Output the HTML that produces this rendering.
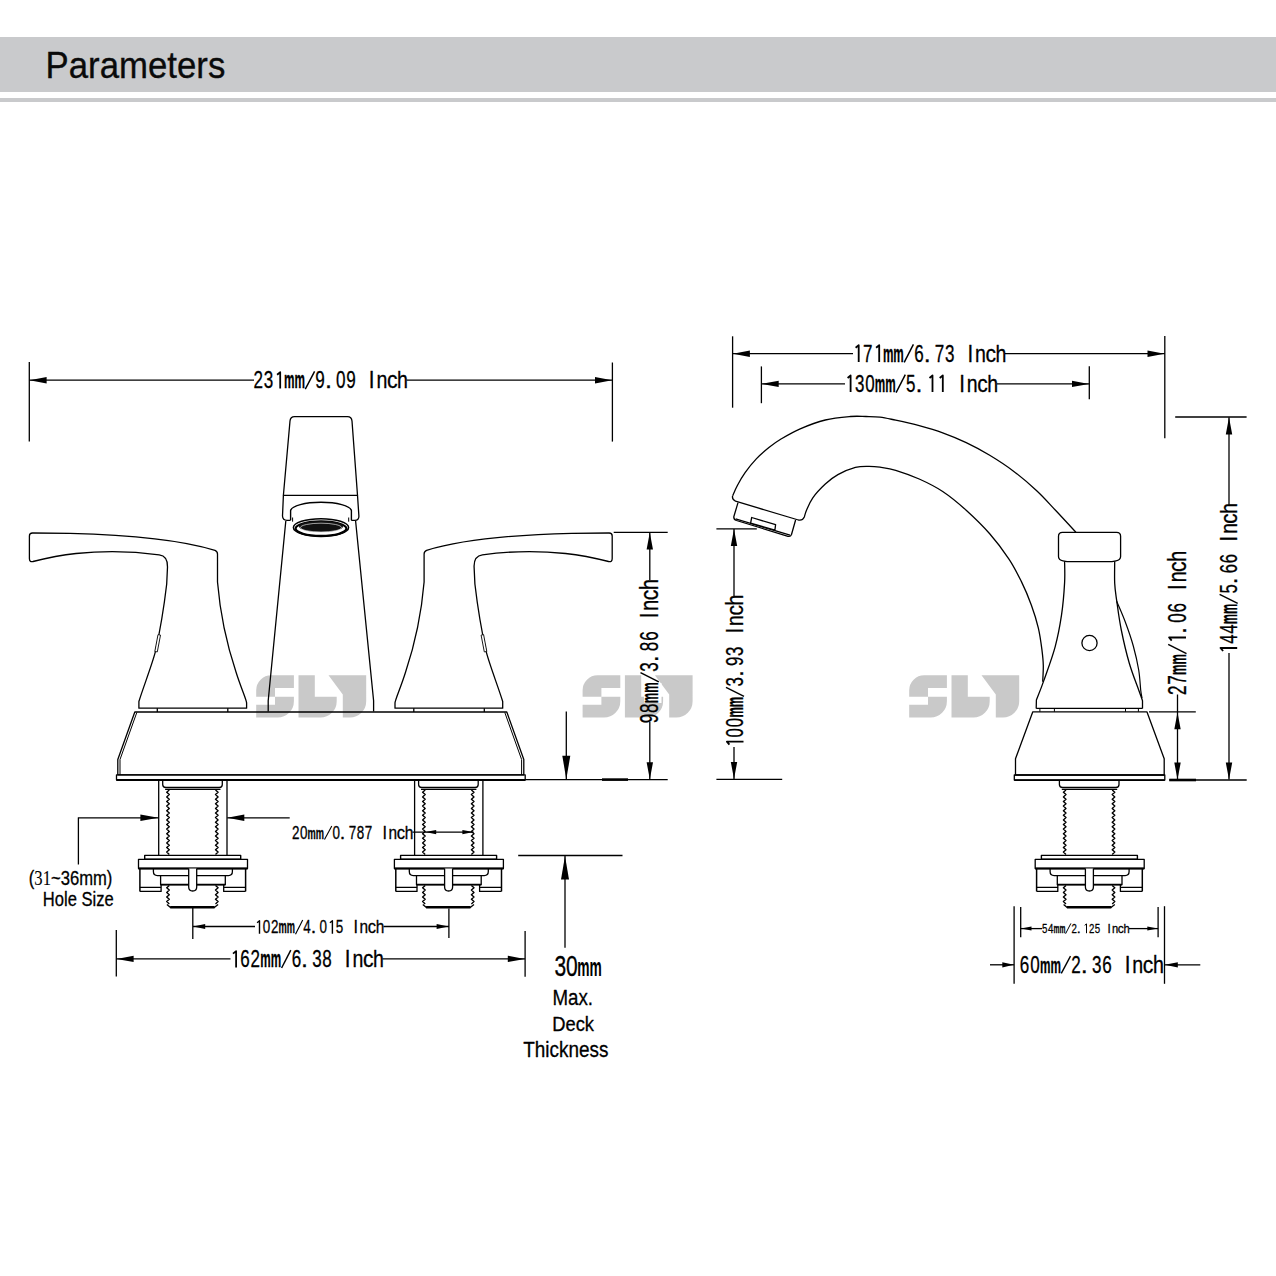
<!DOCTYPE html>
<html><head><meta charset="utf-8"><title>Parameters</title>
<style>
html,body{margin:0;padding:0;background:#fff;}
body{width:1276px;height:1276px;overflow:hidden;position:relative;font-family:"Liberation Sans",sans-serif;}
.band{position:absolute;left:0;top:37px;width:1276px;height:55px;background:#c9cacc;}
.rule{position:absolute;left:0;top:98px;width:1276px;height:4px;background:#c9cacc;}
svg{position:absolute;left:0;top:0;}
text{font-family:"Liberation Sans",sans-serif;fill:#000;stroke:none;}
.f{fill:#000;stroke:none;}
.d{font-family:"Liberation Mono",monospace;}
.dt text{stroke:#000;stroke-width:0.3px;}
.wm{fill:#c9c9c9;stroke:none;}
.s{stroke:#000;stroke-width:0.3px;}
</style></head>
<body>
<div class="band"></div><div class="rule"></div>
<svg width="1276" height="1276" viewBox="0 0 1276 1276">
<text x="45.6" y="78" font-size="36.5" textLength="179.7" lengthAdjust="spacingAndGlyphs" style="fill:#0a0a0a;stroke:#0a0a0a;stroke-width:0.35px">Parameters</text>
<g stroke="#000" fill="none" stroke-linecap="butt" stroke-linejoin="round">
</g>
<path class="wm" d="M256.2,696.7 L256.2,690.3 A15,15 0 0 1 271.2,675.3 L293.9,675.3 L293.9,688.0 L275.0,688.0 L275.0,696.7 L293.9,696.7 L293.9,701.3 A16.3,16.3 0 0 1 277.6,717.6 L256.2,717.6 L256.2,704.8 L275.0,704.8 L275.0,696.7 Z M298.5,675.3 L314.8,675.3 L314.8,696.7 L336.7,696.7 L336.7,701.3 A16.3,16.3 0 0 1 320.4,717.6 L298.5,717.6 Z M328.5,675.3 L366.2,675.3 L366.2,701.3 A16.3,16.3 0 0 1 349.9,717.6 L342.8,717.6 L342.8,694.6 Z"/>
<path class="wm" d="M582.6,696.7 L582.6,690.3 A15,15 0 0 1 597.6,675.3 L620.3,675.3 L620.3,688.0 L601.4,688.0 L601.4,696.7 L620.3,696.7 L620.3,701.3 A16.3,16.3 0 0 1 604.0,717.6 L582.6,717.6 L582.6,704.8 L601.4,704.8 L601.4,696.7 Z M624.9,675.3 L641.2,675.3 L641.2,696.7 L663.1,696.7 L663.1,701.3 A16.3,16.3 0 0 1 646.8,717.6 L624.9,717.6 Z M654.9,675.3 L692.6,675.3 L692.6,701.3 A16.3,16.3 0 0 1 676.3,717.6 L669.2,717.6 L669.2,694.6 Z"/>
<path class="wm" d="M909.2,696.7 L909.2,690.3 A15,15 0 0 1 924.2,675.3 L946.9,675.3 L946.9,688.0 L928.0,688.0 L928.0,696.7 L946.9,696.7 L946.9,701.3 A16.3,16.3 0 0 1 930.6,717.6 L909.2,717.6 L909.2,704.8 L928.0,704.8 L928.0,696.7 Z M951.5,675.3 L967.8,675.3 L967.8,696.7 L989.7,696.7 L989.7,701.3 A16.3,16.3 0 0 1 973.4,717.6 L951.5,717.6 Z M981.5,675.3 L1019.2,675.3 L1019.2,701.3 A16.3,16.3 0 0 1 1002.9,717.6 L995.8,717.6 L995.8,694.6 Z"/>
<g stroke="#000" fill="none" stroke-linecap="butt" stroke-linejoin="round">
<line x1="29.3" y1="362" x2="29.3" y2="441.5" stroke-width="1.3"/>
<line x1="612.4" y1="362.5" x2="612.4" y2="441.6" stroke-width="1.3"/>
<line x1="29.3" y1="380.2" x2="254" y2="380.2" stroke-width="1.3"/>
<line x1="406.5" y1="380.2" x2="612.4" y2="380.2" stroke-width="1.3"/>
<polygon class="f" points="29.6,380.2 46.6,377.0 46.6,383.4"/>
<polygon class="f" points="612.0,380.2 595.0,383.4 595.0,377.0"/>
<path d="M283.4,495.3 L290,421 Q290.4,416.6 294.5,416.6 L347.5,416.6 Q351.6,416.6 352,421 L357.5,495.3 Z" stroke-width="1.3" fill="none" />
<path d="M283.4,495.3 L282.5,516 Q282.7,520.3 287,520.3 L290.6,520.3 M351.2,520.3 L354.8,520.3 Q359,520.3 358.9,516 L357.5,495.3" stroke-width="1.3" fill="none" />
<path d="M285.8,521 L268.2,700.8 L268.2,711.5" stroke-width="1.3" fill="none" />
<path d="M355.6,521 L373.6,700.8 L373.6,711.5" stroke-width="1.3" fill="none" />
<path d="M290.6,520.3 L290.6,510.5 A30.5,8.9 0 0 1 351.4,510.5 L351.4,520.3" stroke-width="1.4" fill="#fff" />
<ellipse cx="321" cy="527.6" rx="27.6" ry="8.9" fill="#fff" stroke-width="1.5"/>
<ellipse cx="321" cy="528.6" rx="25.4" ry="7.2" fill="none" stroke-width="2.2"/>
<ellipse cx="321" cy="526.5" rx="22" ry="5.6" fill="#111" stroke="none"/>
<ellipse cx="321" cy="527.6" rx="20.5" ry="4.4" fill="none" stroke="#ddd" stroke-width="0.7"/>
<line x1="292.6" y1="517.5" x2="292.6" y2="521.7" stroke-width="1.0"/>
<line x1="348.7" y1="517.5" x2="348.7" y2="521.7" stroke-width="1.0"/>
<g>
<path d="M29.4,536 Q29.4,533 32.5,533 L70,533.3 C120,534.5 178,539 215,550.3 Q217.5,551.3 217.5,554 L217.5,582 C220,612 227,645 236,672 C241,688 246.6,700 246.6,703 L246.6,708.2 L138.9,708.2 L138.9,701.5 C143,688 152,665 155.4,651.7 C158,640 164,607 166.7,584 L167.5,567 C167.8,559 164.5,555.5 159.2,554.8 C135,551.5 105,550.5 76,553.5 C58,555.5 45,558.5 33,561.5 Q29.4,562.3 29.4,558.5 Z" stroke-width="1.3" fill="none" />
<path d="M154.8,651.5 L158,634.6 L160.5,635.1 L157.3,651.9 Z" fill="#fff" stroke-width="0.9"/>
<line x1="157.3" y1="708.2" x2="157.3" y2="712" stroke-width="1.3"/>
<line x1="227.8" y1="708.2" x2="227.8" y2="712" stroke-width="1.3"/>
</g>
<g transform="translate(641.6,0) scale(-1,1)">
<path d="M29.4,536 Q29.4,533 32.5,533 L70,533.3 C120,534.5 178,539 215,550.3 Q217.5,551.3 217.5,554 L217.5,582 C220,612 227,645 236,672 C241,688 246.6,700 246.6,703 L246.6,708.2 L138.9,708.2 L138.9,701.5 C143,688 152,665 155.4,651.7 C158,640 164,607 166.7,584 L167.5,567 C167.8,559 164.5,555.5 159.2,554.8 C135,551.5 105,550.5 76,553.5 C58,555.5 45,558.5 33,561.5 Q29.4,562.3 29.4,558.5 Z" stroke-width="1.3" fill="none" />
<path d="M154.8,651.5 L158,634.6 L160.5,635.1 L157.3,651.9 Z" fill="#fff" stroke-width="0.9"/>
<line x1="157.3" y1="708.2" x2="157.3" y2="712" stroke-width="1.3"/>
<line x1="227.8" y1="708.2" x2="227.8" y2="712" stroke-width="1.3"/>
</g>
<path d="M134.8,712 L506.8,712 L523.8,759.5 L523.8,774.8 L117.8,774.8 L117.8,759.5 Z" stroke-width="1.3" fill="none" />
<path d="M136.8,712.5 L120,759.5 L120,774.8" stroke-width="1.0" fill="none" />
<path d="M504.8,712.5 L521.6,759.5 L521.6,774.8" stroke-width="1.0" fill="none" />
<path d="M116.5,774.8 L525.2,774.8 L525.2,780 L116.5,780 Z" stroke-width="1.3" fill="none" />
<line x1="116.5" y1="780" x2="525.2" y2="780" stroke-width="1.8"/>
<line x1="158.7" y1="780.5" x2="158.7" y2="855.3" stroke-width="1.3"/>
<line x1="227.0" y1="780.5" x2="227.0" y2="855.3" stroke-width="1.3"/>
<path d="M162.7,780.3 L162.7,784.5 Q162.7,787.5 165.9,787.5 L219.3,787.5 Q222.3,787.5 222.3,784.5 L222.3,780.3" stroke-width="1.3" fill="none" />
<line x1="165.1" y1="789.3" x2="220.5" y2="789.3" stroke-width="1.3"/>
<polyline points="169.3,790.0 166.7,792.3 169.3,794.6 166.7,796.9 169.3,799.2 166.7,801.5 169.3,803.8 166.7,806.1 169.3,808.4 166.7,810.7 169.3,813.0 166.7,815.3 169.3,817.6 166.7,819.9 169.3,822.2 166.7,824.5 169.3,826.8 166.7,829.1 169.3,831.4 166.7,833.7 169.3,836.0 166.7,838.3 169.3,840.6 166.7,842.9 169.3,845.2 166.7,847.5 169.3,849.8 166.7,852.1 169.3,854.4" fill="none" stroke-width="1.4"/>
<polyline points="215.5,790.0 218.1,792.3 215.5,794.6 218.1,796.9 215.5,799.2 218.1,801.5 215.5,803.8 218.1,806.1 215.5,808.4 218.1,810.7 215.5,813.0 218.1,815.3 215.5,817.6 218.1,819.9 215.5,822.2 218.1,824.5 215.5,826.8 218.1,829.1 215.5,831.4 218.1,833.7 215.5,836.0 218.1,838.3 215.5,840.6 218.1,842.9 215.5,845.2 218.1,847.5 215.5,849.8 218.1,852.1 215.5,854.4" fill="none" stroke-width="1.4"/>
<rect x="144.7" y="855.4" width="96" height="3.9" fill="none" stroke-width="1.4"/>
<rect x="138.5" y="859.3" width="109" height="9.2" fill="none" stroke-width="1.3"/>
<line x1="138.5" y1="868.6" x2="247.5" y2="868.6" stroke-width="2.0"/>
<line x1="139.9" y1="868.6" x2="139.9" y2="891.4" stroke-width="1.5"/>
<line x1="245.6" y1="868.6" x2="245.6" y2="891.4" stroke-width="1.5"/>
<path d="M139.9,891.4 L161.1,891.4 L161.1,887.3 L139.9,887.3" stroke-width="1.3" fill="none" />
<path d="M245.6,891.4 L223.7,891.4 L223.7,887.3 L245.6,887.3" stroke-width="1.3" fill="none" />
<path d="M153.4,868.6 L153.4,871.6 Q153.4,875.6 157.4,875.6 L228.4,875.6 Q232.4,875.6 232.4,871.6 L232.4,868.6" stroke-width="1.3" fill="none" />
<path d="M160.6,875.6 L160.6,884.7 L225.3,884.7 L225.3,875.6" stroke-width="1.3" fill="none" />
<line x1="160.6" y1="884.7" x2="225.3" y2="884.7" stroke-width="1.8"/>
<line x1="161.1" y1="884.7" x2="161.1" y2="887.3" stroke-width="1.3"/>
<line x1="223.7" y1="884.7" x2="223.7" y2="887.3" stroke-width="1.3"/>
<path d="M188.7,868.6 L188.7,887 Q188.7,891 192.7,891 Q196.7,891 196.7,887 L196.7,868.6" stroke-width="1.3" fill="#fff" />
<polyline points="169.3,885.5 166.7,887.8 169.3,890.1 166.7,892.4 169.3,894.7 166.7,897.0 169.3,899.3 166.7,901.6 169.3,903.9" fill="none" stroke-width="1.4"/>
<polyline points="215.5,885.5 218.1,887.8 215.5,890.1 218.1,892.4 215.5,894.7 218.1,897.0 215.5,899.3 218.1,901.6 215.5,903.9" fill="none" stroke-width="1.4"/>
<path d="M166.9,904.5 L170.2,907.3 L214.6,907.3 L218.1,904.5" stroke-width="1.3" fill="none" />
<line x1="170.2" y1="907.3" x2="214.6" y2="907.3" stroke-width="2.4"/>
<line x1="414.6" y1="780.5" x2="414.6" y2="855.3" stroke-width="1.3"/>
<line x1="482.9" y1="780.5" x2="482.9" y2="855.3" stroke-width="1.3"/>
<path d="M418.6,780.3 L418.6,784.5 Q418.6,787.5 421.8,787.5 L475.2,787.5 Q478.2,787.5 478.2,784.5 L478.2,780.3" stroke-width="1.3" fill="none" />
<line x1="421.0" y1="789.3" x2="476.4" y2="789.3" stroke-width="1.3"/>
<polyline points="425.2,790.0 422.6,792.3 425.2,794.6 422.6,796.9 425.2,799.2 422.6,801.5 425.2,803.8 422.6,806.1 425.2,808.4 422.6,810.7 425.2,813.0 422.6,815.3 425.2,817.6 422.6,819.9 425.2,822.2 422.6,824.5 425.2,826.8 422.6,829.1 425.2,831.4 422.6,833.7 425.2,836.0 422.6,838.3 425.2,840.6 422.6,842.9 425.2,845.2 422.6,847.5 425.2,849.8 422.6,852.1 425.2,854.4" fill="none" stroke-width="1.4"/>
<polyline points="471.4,790.0 474.0,792.3 471.4,794.6 474.0,796.9 471.4,799.2 474.0,801.5 471.4,803.8 474.0,806.1 471.4,808.4 474.0,810.7 471.4,813.0 474.0,815.3 471.4,817.6 474.0,819.9 471.4,822.2 474.0,824.5 471.4,826.8 474.0,829.1 471.4,831.4 474.0,833.7 471.4,836.0 474.0,838.3 471.4,840.6 474.0,842.9 471.4,845.2 474.0,847.5 471.4,849.8 474.0,852.1 471.4,854.4" fill="none" stroke-width="1.4"/>
<rect x="400.6" y="855.4" width="96" height="3.9" fill="none" stroke-width="1.4"/>
<rect x="394.4" y="859.3" width="109" height="9.2" fill="none" stroke-width="1.3"/>
<line x1="394.4" y1="868.6" x2="503.4" y2="868.6" stroke-width="2.0"/>
<line x1="395.8" y1="868.6" x2="395.8" y2="891.4" stroke-width="1.5"/>
<line x1="501.5" y1="868.6" x2="501.5" y2="891.4" stroke-width="1.5"/>
<path d="M395.8,891.4 L417.0,891.4 L417.0,887.3 L395.8,887.3" stroke-width="1.3" fill="none" />
<path d="M501.5,891.4 L479.6,891.4 L479.6,887.3 L501.5,887.3" stroke-width="1.3" fill="none" />
<path d="M409.3,868.6 L409.3,871.6 Q409.3,875.6 413.3,875.6 L484.3,875.6 Q488.3,875.6 488.3,871.6 L488.3,868.6" stroke-width="1.3" fill="none" />
<path d="M416.5,875.6 L416.5,884.7 L481.2,884.7 L481.2,875.6" stroke-width="1.3" fill="none" />
<line x1="416.5" y1="884.7" x2="481.2" y2="884.7" stroke-width="1.8"/>
<line x1="417.0" y1="884.7" x2="417.0" y2="887.3" stroke-width="1.3"/>
<line x1="479.6" y1="884.7" x2="479.6" y2="887.3" stroke-width="1.3"/>
<path d="M444.6,868.6 L444.6,887 Q444.6,891 448.6,891 Q452.6,891 452.6,887 L452.6,868.6" stroke-width="1.3" fill="#fff" />
<polyline points="425.2,885.5 422.6,887.8 425.2,890.1 422.6,892.4 425.2,894.7 422.6,897.0 425.2,899.3 422.6,901.6 425.2,903.9" fill="none" stroke-width="1.4"/>
<polyline points="471.4,885.5 474.0,887.8 471.4,890.1 474.0,892.4 471.4,894.7 474.0,897.0 471.4,899.3 474.0,901.6 471.4,903.9" fill="none" stroke-width="1.4"/>
<path d="M422.8,904.5 L426.1,907.3 L470.5,907.3 L474.0,904.5" stroke-width="1.3" fill="none" />
<line x1="426.1" y1="907.3" x2="470.5" y2="907.3" stroke-width="2.4"/>
<line x1="613.7" y1="532.3" x2="667.7" y2="532.3" stroke-width="1.3"/>
<line x1="525" y1="779.6" x2="667.7" y2="779.6" stroke-width="1.3"/>
<line x1="602" y1="779.6" x2="628" y2="779.6" stroke-width="2.6"/>
<line x1="649.8" y1="532.3" x2="649.8" y2="580" stroke-width="1.3"/>
<line x1="649.8" y1="722" x2="649.8" y2="779.6" stroke-width="1.3"/>
<polygon class="f" points="649.8,532.6 653.0,549.6 646.6,549.6"/>
<polygon class="f" points="649.8,779.3 646.6,762.3 653.0,762.3"/>
<rect x="644" y="683" width="17.5" height="20" fill="#fff" stroke="none"/>
<g transform="translate(658 723.7) rotate(-90)" class="dt" font-size="25.00"><text transform="translate(5.2 0) scale(0.684 1)" text-anchor="middle">9</text><text transform="translate(15.5 0) scale(0.684 1)" text-anchor="middle">8</text><text x="20.4" font-size="23.75" font-weight="bold" textLength="21.0" lengthAdjust="spacingAndGlyphs">mm</text><line x1="41.8" y1="0.8" x2="51.1" y2="-17.5" stroke="#000" stroke-width="1.49"/><text transform="translate(56.7 0) scale(0.684 1)" text-anchor="middle">3</text><text transform="translate(64.9 0) scale(1.008 1)" text-anchor="middle">.</text><text transform="translate(77.3 0) scale(0.684 1)" text-anchor="middle">8</text><text transform="translate(87.6 0) scale(0.684 1)" text-anchor="middle">6</text><text transform="translate(108.2 0) scale(0.824 1)" text-anchor="middle">I</text><text transform="translate(118.5 0) scale(0.785 1)" text-anchor="middle">n</text><text transform="translate(128.8 0) scale(0.845 1)" text-anchor="middle">c</text><text transform="translate(139.1 0) scale(0.785 1)" text-anchor="middle">h</text></g>
<line x1="566.3" y1="711.5" x2="566.3" y2="779.6" stroke-width="1.3"/>
<polygon class="f" points="566.3,779.3 562.3,755.8 570.3,755.8"/>
<line x1="518.2" y1="855.5" x2="622.5" y2="855.5" stroke-width="1.3"/>
<line x1="565" y1="856" x2="565" y2="947.8" stroke-width="1.3"/>
<polygon class="f" points="565.0,856.0 569.0,879.5 561.0,879.5"/>
<text class="s" x="554.4" y="975.7" font-size="28.6" textLength="23.4" lengthAdjust="spacingAndGlyphs">30</text>
<text x="577.2" y="975.7" font-size="25.5" font-weight="bold" textLength="24.6" lengthAdjust="spacingAndGlyphs">mm</text>
<text class="s" x="552.4" y="1004.7" font-size="22.7" textLength="40.6" lengthAdjust="spacingAndGlyphs">Max.</text>
<text class="s" x="552.2" y="1030.7" font-size="19.5" textLength="41.8" lengthAdjust="spacingAndGlyphs">Deck</text>
<text class="s" x="523.2" y="1056.9" font-size="21.3" textLength="85.2" lengthAdjust="spacingAndGlyphs">Thickness</text>
<line x1="78.4" y1="817.4" x2="78.4" y2="864.5" stroke-width="1.3"/>
<line x1="78.4" y1="817.8" x2="158.5" y2="817.8" stroke-width="1.3"/>
<polygon class="f" points="158.4,817.8 140.4,821.0 140.4,814.6"/>
<line x1="227.2" y1="817.8" x2="289.7" y2="817.8" stroke-width="1.3"/>
<polygon class="f" points="227.3,817.8 244.3,814.6 244.3,821.0"/>
<g transform="translate(291.6 838.7)" class="dt" font-size="18.14"><text transform="translate(4.1 0) scale(0.741 1)" text-anchor="middle">2</text><text transform="translate(12.2 0) scale(0.741 1)" text-anchor="middle">0</text><text x="16.0" font-size="17.24" font-weight="bold" textLength="16.5" lengthAdjust="spacingAndGlyphs">mm</text><line x1="32.9" y1="0.8" x2="40.2" y2="-12.7" stroke="#000" stroke-width="1.08"/><text transform="translate(44.6 0) scale(0.741 1)" text-anchor="middle">0</text><text transform="translate(51.0 0) scale(1.091 1)" text-anchor="middle">.</text><text transform="translate(60.8 0) scale(0.741 1)" text-anchor="middle">7</text><text transform="translate(68.9 0) scale(0.741 1)" text-anchor="middle">8</text><text transform="translate(77.0 0) scale(0.741 1)" text-anchor="middle">7</text><text transform="translate(93.2 0) scale(0.893 1)" text-anchor="middle">I</text><text transform="translate(101.3 0) scale(0.850 1)" text-anchor="middle">n</text><text transform="translate(109.4 0) scale(0.915 1)" text-anchor="middle">c</text><text transform="translate(117.5 0) scale(0.850 1)" text-anchor="middle">h</text></g>
<line x1="412.4" y1="832.1" x2="473.6" y2="832.1" stroke-width="1.1"/>
<polygon class="f" points="425.2,832.1 436.2,829.9 436.2,834.3"/>
<polygon class="f" points="473.4,832.1 462.4,834.3 462.4,829.9"/>
<text class="s" x="28.8" y="885.3" font-size="20.5" textLength="83.6" lengthAdjust="spacingAndGlyphs">(<tspan font-family="Liberation Serif" style="stroke-width:0.1px">31</tspan>~36mm)</text>
<text class="s" x="42.8" y="906" font-size="20.6" textLength="71" lengthAdjust="spacingAndGlyphs">Hole Size</text>
<line x1="192.8" y1="907.5" x2="192.8" y2="938.9" stroke-width="1.3"/>
<line x1="448.9" y1="908.4" x2="448.9" y2="938" stroke-width="1.3"/>
<line x1="193" y1="926.5" x2="255" y2="926.5" stroke-width="1.3"/>
<line x1="383.5" y1="926.5" x2="448.9" y2="926.5" stroke-width="1.3"/>
<polygon class="f" points="193.2,926.5 205.2,924.1 205.2,928.9"/>
<polygon class="f" points="448.6,926.5 436.6,928.9 436.6,924.1"/>
<g transform="translate(254.5 933.4)" class="dt" font-size="19.14"><path d="M5.0,0.3 L5.0,-12.7 L2.6,-10.7" fill="none" stroke="#000" stroke-width="1.41" stroke-linejoin="round"/><text transform="translate(12.1 0) scale(0.702 1)" text-anchor="middle">0</text><text transform="translate(20.2 0) scale(0.702 1)" text-anchor="middle">2</text><text x="24.1" font-size="18.19" font-weight="bold" textLength="16.5" lengthAdjust="spacingAndGlyphs">mm</text><line x1="41.0" y1="0.8" x2="48.2" y2="-13.4" stroke="#000" stroke-width="1.14"/><text transform="translate(52.6 0) scale(0.702 1)" text-anchor="middle">4</text><text transform="translate(59.1 0) scale(1.034 1)" text-anchor="middle">.</text><text transform="translate(68.8 0) scale(0.702 1)" text-anchor="middle">0</text><path d="M77.9,0.3 L77.9,-12.7 L75.4,-10.7" fill="none" stroke="#000" stroke-width="1.41" stroke-linejoin="round"/><text transform="translate(85.0 0) scale(0.702 1)" text-anchor="middle">5</text><text transform="translate(101.2 0) scale(0.846 1)" text-anchor="middle">I</text><text transform="translate(109.3 0) scale(0.805 1)" text-anchor="middle">n</text><text transform="translate(117.4 0) scale(0.867 1)" text-anchor="middle">c</text><text transform="translate(125.5 0) scale(0.805 1)" text-anchor="middle">h</text></g>
<line x1="116.3" y1="930" x2="116.3" y2="976.5" stroke-width="1.3"/>
<line x1="525.1" y1="930.9" x2="525.1" y2="976.7" stroke-width="1.3"/>
<line x1="116.3" y1="958.9" x2="230.5" y2="958.9" stroke-width="1.3"/>
<line x1="382.5" y1="958.9" x2="525.1" y2="958.9" stroke-width="1.3"/>
<polygon class="f" points="116.6,958.9 133.6,955.7 133.6,962.1"/>
<polygon class="f" points="524.8,958.9 507.8,962.1 507.8,955.7"/>
<g transform="translate(229.7 967.2)" class="dt" font-size="24.29"><path d="M6.4,0.3 L6.4,-16.1 L3.3,-13.6" fill="none" stroke="#000" stroke-width="1.78" stroke-linejoin="round"/><text transform="translate(15.4 0) scale(0.701 1)" text-anchor="middle">6</text><text transform="translate(25.6 0) scale(0.701 1)" text-anchor="middle">2</text><text x="30.6" font-size="23.07" font-weight="bold" textLength="20.9" lengthAdjust="spacingAndGlyphs">mm</text><line x1="51.9" y1="0.8" x2="61.1" y2="-17.0" stroke="#000" stroke-width="1.45"/><text transform="translate(66.7 0) scale(0.701 1)" text-anchor="middle">6</text><text transform="translate(74.9 0) scale(1.032 1)" text-anchor="middle">.</text><text transform="translate(87.2 0) scale(0.701 1)" text-anchor="middle">3</text><text transform="translate(97.4 0) scale(0.701 1)" text-anchor="middle">8</text><text transform="translate(118.0 0) scale(0.845 1)" text-anchor="middle">I</text><text transform="translate(128.2 0) scale(0.805 1)" text-anchor="middle">n</text><text transform="translate(138.5 0) scale(0.866 1)" text-anchor="middle">c</text><text transform="translate(148.7 0) scale(0.805 1)" text-anchor="middle">h</text></g>
<g transform="translate(253.2 388.3)" class="dt" font-size="24.29"><text transform="translate(5.1 0) scale(0.704 1)" text-anchor="middle">2</text><text transform="translate(15.4 0) scale(0.704 1)" text-anchor="middle">3</text><path d="M27.0,0.3 L27.0,-16.1 L23.9,-13.6" fill="none" stroke="#000" stroke-width="1.78" stroke-linejoin="round"/><text x="30.7" font-size="23.07" font-weight="bold" textLength="21.0" lengthAdjust="spacingAndGlyphs">mm</text><line x1="52.1" y1="0.8" x2="61.4" y2="-17.0" stroke="#000" stroke-width="1.45"/><text transform="translate(66.9 0) scale(0.704 1)" text-anchor="middle">9</text><text transform="translate(75.2 0) scale(1.037 1)" text-anchor="middle">.</text><text transform="translate(87.5 0) scale(0.704 1)" text-anchor="middle">0</text><text transform="translate(97.8 0) scale(0.704 1)" text-anchor="middle">9</text><text transform="translate(118.4 0) scale(0.848 1)" text-anchor="middle">I</text><text transform="translate(128.7 0) scale(0.808 1)" text-anchor="middle">n</text><text transform="translate(139.0 0) scale(0.869 1)" text-anchor="middle">c</text><text transform="translate(149.3 0) scale(0.808 1)" text-anchor="middle">h</text></g>
<line x1="732.6" y1="336.3" x2="732.6" y2="407.7" stroke-width="1.3"/>
<line x1="1164.8" y1="336" x2="1164.8" y2="438.2" stroke-width="1.3"/>
<line x1="732.6" y1="353.7" x2="853" y2="353.7" stroke-width="1.3"/>
<line x1="1005" y1="353.7" x2="1164.8" y2="353.7" stroke-width="1.3"/>
<polygon class="f" points="732.9,353.7 749.9,350.5 749.9,356.9"/>
<polygon class="f" points="1164.5,353.7 1147.5,356.9 1147.5,350.5"/>
<g transform="translate(852.3 361.6)" class="dt" font-size="24.71"><path d="M6.4,0.3 L6.4,-16.4 L3.3,-13.8" fill="none" stroke="#000" stroke-width="1.82" stroke-linejoin="round"/><text transform="translate(15.4 0) scale(0.689 1)" text-anchor="middle">7</text><path d="M26.9,0.3 L26.9,-16.4 L23.8,-13.8" fill="none" stroke="#000" stroke-width="1.82" stroke-linejoin="round"/><text x="30.6" font-size="23.48" font-weight="bold" textLength="20.9" lengthAdjust="spacingAndGlyphs">mm</text><line x1="51.9" y1="0.8" x2="61.1" y2="-17.3" stroke="#000" stroke-width="1.47"/><text transform="translate(66.7 0) scale(0.689 1)" text-anchor="middle">6</text><text transform="translate(74.9 0) scale(1.015 1)" text-anchor="middle">.</text><text transform="translate(87.2 0) scale(0.689 1)" text-anchor="middle">7</text><text transform="translate(97.4 0) scale(0.689 1)" text-anchor="middle">3</text><text transform="translate(118.0 0) scale(0.830 1)" text-anchor="middle">I</text><text transform="translate(128.2 0) scale(0.791 1)" text-anchor="middle">n</text><text transform="translate(138.5 0) scale(0.851 1)" text-anchor="middle">c</text><text transform="translate(148.7 0) scale(0.791 1)" text-anchor="middle">h</text></g>
<line x1="761.4" y1="366.4" x2="761.4" y2="403.2" stroke-width="1.3"/>
<line x1="1089.3" y1="366.3" x2="1089.3" y2="399.2" stroke-width="1.3"/>
<line x1="761.4" y1="383.9" x2="845" y2="383.9" stroke-width="1.3"/>
<line x1="997" y1="383.9" x2="1089.3" y2="383.9" stroke-width="1.3"/>
<polygon class="f" points="761.7,383.9 778.7,380.7 778.7,387.1"/>
<polygon class="f" points="1089.0,383.9 1072.0,387.1 1072.0,380.7"/>
<g transform="translate(844.3 391.8)" class="dt" font-size="24.57"><path d="M6.3,0.3 L6.3,-16.3 L3.3,-13.8" fill="none" stroke="#000" stroke-width="1.81" stroke-linejoin="round"/><text transform="translate(15.4 0) scale(0.691 1)" text-anchor="middle">3</text><text transform="translate(25.6 0) scale(0.691 1)" text-anchor="middle">0</text><text x="30.5" font-size="23.34" font-weight="bold" textLength="20.9" lengthAdjust="spacingAndGlyphs">mm</text><line x1="51.8" y1="0.8" x2="61.0" y2="-17.2" stroke="#000" stroke-width="1.46"/><text transform="translate(66.5 0) scale(0.691 1)" text-anchor="middle">5</text><text transform="translate(74.7 0) scale(1.018 1)" text-anchor="middle">.</text><path d="M88.2,0.3 L88.2,-16.3 L85.2,-13.8" fill="none" stroke="#000" stroke-width="1.81" stroke-linejoin="round"/><path d="M98.5,0.3 L98.5,-16.3 L95.4,-13.8" fill="none" stroke="#000" stroke-width="1.81" stroke-linejoin="round"/><text transform="translate(117.7 0) scale(0.833 1)" text-anchor="middle">I</text><text transform="translate(128.0 0) scale(0.794 1)" text-anchor="middle">n</text><text transform="translate(138.2 0) scale(0.854 1)" text-anchor="middle">c</text><text transform="translate(148.4 0) scale(0.794 1)" text-anchor="middle">h</text></g>
<path d="M732.6,495.8 C733.4,494.0 735.4,489.1 737.5,485.2 C739.6,481.3 742.0,477.1 745.1,472.7 C748.2,468.3 752.3,463.1 756.3,458.9 C760.3,454.7 764.7,451.0 768.9,447.6 C773.1,444.2 776.2,441.9 781.4,438.8 C786.6,435.7 792.9,431.9 800.2,428.8 C807.5,425.7 816.9,422.1 825.3,420 C833.7,417.9 843.6,417.1 850.4,416.5 C857.2,415.9 861.1,416.4 866,416.5 C870.9,416.6 875.0,416.5 880,417.1 C885.0,417.7 889.2,418.8 895.7,420.2 C902.2,421.6 911.4,423.6 919.2,425.7 C927.0,427.8 934.9,430.0 942.7,432.8 C950.5,435.6 958.4,438.9 966.2,442.6 C974.0,446.3 981.9,450.5 989.7,455.2 C997.5,459.9 1005.4,465.0 1013.2,470.9 C1021.0,476.8 1029.7,484.2 1036.7,490.8 C1043.8,497.4 1049.0,503.4 1055.5,510.3 C1062.0,517.2 1072.5,528.6 1075.9,532.3 " stroke-width="1.3" fill="none" />
<path d="M732.6,495.8 Q731.8,499.5 735.5,501.2 L798.4,520 Q802.5,521 804.3,517 C804.7,515.9 805.1,513.5 806.5,510.3 C807.9,507.1 809.7,502.2 812.8,497.8 C815.9,493.4 821.1,487.9 825.3,484 C829.5,480.1 832.9,477.4 837.9,474.6 C842.9,471.8 850.2,468.8 855.4,467.4 C860.6,466.0 864.9,466.3 869,466.3 C873.1,466.3 875.5,466.5 880,467.2 C884.5,467.9 889.2,468.3 895.7,470.3 C902.2,472.3 911.4,475.5 919.2,479 C927.0,482.5 934.9,486.3 942.7,491.5 C950.5,496.7 958.4,503.2 966.2,510.3 C974.0,517.4 982.6,525.7 989.7,533.8 C996.8,541.9 1003.5,550.9 1008.8,558.8 C1014.1,566.7 1017.5,573.7 1021.3,581.4 C1025.1,589.1 1028.6,597.5 1031.4,605.2 C1034.2,612.9 1036.5,620.3 1038.3,627.8 C1040.1,635.3 1041.2,644.0 1042,650.3 C1042.8,656.6 1043.2,660.2 1043.3,665.4 C1043.4,670.6 1042.8,679.0 1042.7,681.7 " stroke-width="1.3" fill="none" />
<path d="M738,502.6 L733.8,516.8 Q733.6,519.5 736.5,520.5 L788,536.3 Q790.5,537 791.5,534.5 L795.6,520" stroke-width="1.3" fill="none" />
<path d="M735.6,518.9 L790,535.1" stroke-width="1.3" fill="none" />
<path d="M751.7,517.5 L775.6,524.7 L774.9,530.2 L750.6,523.1 Z" stroke-width="1.3" fill="#fff" />
<line x1="716.4" y1="528.8" x2="756.8" y2="528.8" stroke-width="1.3"/>
<line x1="716.4" y1="779.4" x2="782.2" y2="779.4" stroke-width="1.3"/>
<line x1="734" y1="529" x2="734" y2="596" stroke-width="1.3"/>
<line x1="734" y1="747" x2="734" y2="779.3" stroke-width="1.3"/>
<polygon class="f" points="734.0,529.1 737.2,546.1 730.8,546.1"/>
<polygon class="f" points="734.0,779.1 730.8,762.1 737.2,762.1"/>
<g transform="translate(743.2 748.0) rotate(-90)" class="dt" font-size="24.57"><path d="M6.3,0.3 L6.3,-16.3 L3.3,-13.8" fill="none" stroke="#000" stroke-width="1.81" stroke-linejoin="round"/><text transform="translate(15.3 0) scale(0.688 1)" text-anchor="middle">0</text><text transform="translate(25.5 0) scale(0.688 1)" text-anchor="middle">0</text><text x="30.4" font-size="23.34" font-weight="bold" textLength="20.8" lengthAdjust="spacingAndGlyphs">mm</text><line x1="51.6" y1="0.8" x2="60.7" y2="-17.2" stroke="#000" stroke-width="1.46"/><text transform="translate(66.2 0) scale(0.688 1)" text-anchor="middle">3</text><text transform="translate(74.4 0) scale(1.014 1)" text-anchor="middle">.</text><text transform="translate(86.6 0) scale(0.688 1)" text-anchor="middle">9</text><text transform="translate(96.8 0) scale(0.688 1)" text-anchor="middle">3</text><text transform="translate(117.2 0) scale(0.829 1)" text-anchor="middle">I</text><text transform="translate(127.4 0) scale(0.790 1)" text-anchor="middle">n</text><text transform="translate(137.6 0) scale(0.850 1)" text-anchor="middle">c</text><text transform="translate(147.8 0) scale(0.790 1)" text-anchor="middle">h</text></g>
<path d="M1062.5,532.3 L1116.6,532.3 Q1120.6,532.3 1120.6,536.3 L1120.6,556.5 Q1120.6,560 1116,560.8 L1112,561.6 L1067,561.6 L1063,560.8 Q1058.5,560 1058.5,556.5 L1058.5,536.3 Q1058.5,532.3 1062.5,532.3 Z" stroke-width="1.3" fill="none" />
<path d="M1064.6,561.3 C1064.6,564.8 1065.1,573.6 1064.6,582.6 C1064.1,591.6 1063.1,604.5 1061.5,615.2 C1059.9,625.9 1058.1,635.7 1055.2,646.6 C1052.3,657.5 1047.0,671.5 1043.9,680.4 C1040.8,689.3 1037.7,696.7 1036.4,700  L1036.2,708.4" stroke-width="1.3" fill="none" />
<path d="M1114.7,561.3 C1114.7,565.0 1114.4,576.7 1114.7,583.3 C1115.0,589.9 1115.6,592.9 1116.7,600.7 C1117.8,608.5 1119.2,619.6 1121.3,630 C1123.4,640.4 1126.4,653.3 1129.3,663.3 C1132.2,673.3 1136.5,683.8 1138.7,690 C1140.9,696.2 1141.9,698.9 1142.5,700.7  L1142.5,708.4" stroke-width="1.3" fill="none" />
<path d="M1116.7,601.3 C1118.1,604.8 1122.5,614.5 1125.3,622 C1128.1,629.5 1131.1,638.0 1133.3,646 C1135.5,654.0 1137.5,662.7 1138.7,670 C1139.9,677.3 1140.2,685.3 1140.7,690 C1141.2,694.7 1141.8,696.7 1142,698 " stroke-width="1.2" fill="none" />
<line x1="1036.2" y1="708.4" x2="1142.5" y2="708.4" stroke-width="1.3"/>
<circle cx="1089.5" cy="643" r="7.6" fill="none" stroke-width="1.3"/>
<line x1="1039.9" y1="708.4" x2="1039.9" y2="711.8" stroke-width="1.0"/>
<line x1="1054.4" y1="708.4" x2="1054.4" y2="711.8" stroke-width="1.0"/>
<line x1="1125.5" y1="708.4" x2="1125.5" y2="711.8" stroke-width="1.0"/>
<line x1="1138.4" y1="708.4" x2="1138.4" y2="711.8" stroke-width="1.0"/>
<path d="M1032.8,711.8 L1146.9,711.8 L1164.2,758.7 L1164.2,775 L1015.5,775 L1015.5,758.7 Z" stroke-width="1.3" fill="none" />
<path d="M1014.3,775 L1164.8,775 L1164.8,780.1 L1014.3,780.1 Z" stroke-width="1.3" fill="none" />
<line x1="1014.3" y1="780.1" x2="1164.8" y2="780.1" stroke-width="1.8"/>
<path d="M1059.4,780.3 L1059.4,784.5 Q1059.4,787.5 1062.6,787.5 L1116.0,787.5 Q1119.0,787.5 1119.0,784.5 L1119.0,780.3" stroke-width="1.3" fill="none" />
<line x1="1061.8" y1="789.3" x2="1117.2" y2="789.3" stroke-width="1.3"/>
<polyline points="1066.0,790.0 1063.4,792.3 1066.0,794.6 1063.4,796.9 1066.0,799.2 1063.4,801.5 1066.0,803.8 1063.4,806.1 1066.0,808.4 1063.4,810.7 1066.0,813.0 1063.4,815.3 1066.0,817.6 1063.4,819.9 1066.0,822.2 1063.4,824.5 1066.0,826.8 1063.4,829.1 1066.0,831.4 1063.4,833.7 1066.0,836.0 1063.4,838.3 1066.0,840.6 1063.4,842.9 1066.0,845.2 1063.4,847.5 1066.0,849.8 1063.4,852.1 1066.0,854.4" fill="none" stroke-width="1.4"/>
<polyline points="1112.2,790.0 1114.8,792.3 1112.2,794.6 1114.8,796.9 1112.2,799.2 1114.8,801.5 1112.2,803.8 1114.8,806.1 1112.2,808.4 1114.8,810.7 1112.2,813.0 1114.8,815.3 1112.2,817.6 1114.8,819.9 1112.2,822.2 1114.8,824.5 1112.2,826.8 1114.8,829.1 1112.2,831.4 1114.8,833.7 1112.2,836.0 1114.8,838.3 1112.2,840.6 1114.8,842.9 1112.2,845.2 1114.8,847.5 1112.2,849.8 1114.8,852.1 1112.2,854.4" fill="none" stroke-width="1.4"/>
<rect x="1041.4" y="855.4" width="96" height="3.9" fill="none" stroke-width="1.4"/>
<rect x="1035.2" y="859.3" width="109" height="9.2" fill="none" stroke-width="1.3"/>
<line x1="1035.2" y1="868.6" x2="1144.2" y2="868.6" stroke-width="2.0"/>
<line x1="1036.6" y1="868.6" x2="1036.6" y2="891.4" stroke-width="1.5"/>
<line x1="1142.3" y1="868.6" x2="1142.3" y2="891.4" stroke-width="1.5"/>
<path d="M1036.6,891.4 L1057.8,891.4 L1057.8,887.3 L1036.6,887.3" stroke-width="1.3" fill="none" />
<path d="M1142.3,891.4 L1120.4,891.4 L1120.4,887.3 L1142.3,887.3" stroke-width="1.3" fill="none" />
<path d="M1050.1,868.6 L1050.1,871.6 Q1050.1,875.6 1054.1,875.6 L1125.1,875.6 Q1129.1,875.6 1129.1,871.6 L1129.1,868.6" stroke-width="1.3" fill="none" />
<path d="M1057.3,875.6 L1057.3,884.7 L1122.0,884.7 L1122.0,875.6" stroke-width="1.3" fill="none" />
<line x1="1057.3" y1="884.7" x2="1122.0" y2="884.7" stroke-width="1.8"/>
<line x1="1057.8" y1="884.7" x2="1057.8" y2="887.3" stroke-width="1.3"/>
<line x1="1120.4" y1="884.7" x2="1120.4" y2="887.3" stroke-width="1.3"/>
<path d="M1085.4,868.6 L1085.4,887 Q1085.4,891 1089.4,891 Q1093.4,891 1093.4,887 L1093.4,868.6" stroke-width="1.3" fill="#fff" />
<polyline points="1066.0,885.5 1063.4,887.8 1066.0,890.1 1063.4,892.4 1066.0,894.7 1063.4,897.0 1066.0,899.3 1063.4,901.6 1066.0,903.9" fill="none" stroke-width="1.4"/>
<polyline points="1112.2,885.5 1114.8,887.8 1112.2,890.1 1114.8,892.4 1112.2,894.7 1114.8,897.0 1112.2,899.3 1114.8,901.6 1112.2,903.9" fill="none" stroke-width="1.4"/>
<path d="M1063.6,904.5 L1066.9,907.3 L1111.3,907.3 L1114.8,904.5" stroke-width="1.3" fill="none" />
<line x1="1066.9" y1="907.3" x2="1111.3" y2="907.3" stroke-width="2.4"/>
<line x1="1149" y1="711.8" x2="1195.8" y2="711.8" stroke-width="1.3"/>
<line x1="1169.3" y1="780" x2="1246.7" y2="780" stroke-width="1.3"/>
<line x1="1169.3" y1="780" x2="1196" y2="780" stroke-width="2.6"/>
<line x1="1177.5" y1="694.5" x2="1177.5" y2="779.5" stroke-width="1.3"/>
<polygon class="f" points="1177.5,712.2 1180.7,729.2 1174.3,729.2"/>
<polygon class="f" points="1177.5,779.6 1174.3,762.6 1180.7,762.6"/>
<g transform="translate(1185.7 695.4) rotate(-90)" class="dt" font-size="25.00"><text transform="translate(5.2 0) scale(0.684 1)" text-anchor="middle">2</text><text transform="translate(15.5 0) scale(0.684 1)" text-anchor="middle">7</text><text x="20.4" font-size="23.75" font-weight="bold" textLength="21.0" lengthAdjust="spacingAndGlyphs">mm</text><line x1="41.8" y1="0.8" x2="51.1" y2="-17.5" stroke="#000" stroke-width="1.49"/><path d="M57.9,0.3 L57.9,-16.6 L54.8,-14.0" fill="none" stroke="#000" stroke-width="1.84" stroke-linejoin="round"/><text transform="translate(64.9 0) scale(1.008 1)" text-anchor="middle">.</text><text transform="translate(77.3 0) scale(0.684 1)" text-anchor="middle">0</text><text transform="translate(87.6 0) scale(0.684 1)" text-anchor="middle">6</text><text transform="translate(108.2 0) scale(0.824 1)" text-anchor="middle">I</text><text transform="translate(118.5 0) scale(0.785 1)" text-anchor="middle">n</text><text transform="translate(128.8 0) scale(0.845 1)" text-anchor="middle">c</text><text transform="translate(139.1 0) scale(0.785 1)" text-anchor="middle">h</text></g>
<line x1="1175.2" y1="417" x2="1246.6" y2="417" stroke-width="1.3"/>
<line x1="1229" y1="417.3" x2="1229" y2="504.8" stroke-width="1.3"/>
<line x1="1229" y1="653" x2="1229" y2="779.6" stroke-width="1.3"/>
<polygon class="f" points="1229.0,417.4 1232.2,434.4 1225.8,434.4"/>
<polygon class="f" points="1229.0,779.6 1225.8,762.6 1232.2,762.6"/>
<g transform="translate(1236.9 654.2) rotate(-90)" class="dt" font-size="24.71"><path d="M6.2,0.3 L6.2,-16.4 L3.2,-13.8" fill="none" stroke="#000" stroke-width="1.82" stroke-linejoin="round"/><text transform="translate(15.1 0) scale(0.675 1)" text-anchor="middle">4</text><text transform="translate(25.1 0) scale(0.675 1)" text-anchor="middle">4</text><text x="30.0" font-size="23.48" font-weight="bold" textLength="20.5" lengthAdjust="spacingAndGlyphs">mm</text><line x1="50.9" y1="0.8" x2="59.9" y2="-17.3" stroke="#000" stroke-width="1.47"/><text transform="translate(65.4 0) scale(0.675 1)" text-anchor="middle">5</text><text transform="translate(73.4 0) scale(0.994 1)" text-anchor="middle">.</text><text transform="translate(85.5 0) scale(0.675 1)" text-anchor="middle">6</text><text transform="translate(95.5 0) scale(0.675 1)" text-anchor="middle">6</text><text transform="translate(115.6 0) scale(0.814 1)" text-anchor="middle">I</text><text transform="translate(125.7 0) scale(0.775 1)" text-anchor="middle">n</text><text transform="translate(135.7 0) scale(0.834 1)" text-anchor="middle">c</text><text transform="translate(145.8 0) scale(0.775 1)" text-anchor="middle">h</text></g>
<line x1="1020.7" y1="907" x2="1020.7" y2="937.2" stroke-width="1.3"/>
<line x1="1158.1" y1="907" x2="1158.1" y2="937.2" stroke-width="1.3"/>
<line x1="1020.7" y1="928.6" x2="1042" y2="928.6" stroke-width="1.3"/>
<line x1="1129" y1="928.6" x2="1158.1" y2="928.6" stroke-width="1.3"/>
<polygon class="f" points="1021.0,928.6 1031.5,926.6 1031.5,930.6"/>
<polygon class="f" points="1157.8,928.6 1147.3,930.6 1147.3,926.6"/>
<g transform="translate(1041.9 932.9)" class="dt" font-size="13.57"><text transform="translate(2.9 0) scale(0.715 1)" text-anchor="middle">5</text><text transform="translate(8.8 0) scale(0.715 1)" text-anchor="middle">4</text><text x="11.6" font-size="12.89" font-weight="bold" textLength="11.9" lengthAdjust="spacingAndGlyphs">mm</text><line x1="23.7" y1="0.8" x2="29.0" y2="-9.5" stroke="#000" stroke-width="1.00"/><text transform="translate(32.2 0) scale(0.715 1)" text-anchor="middle">2</text><text transform="translate(36.8 0) scale(1.053 1)" text-anchor="middle">.</text><path d="M44.6,0.3 L44.6,-9.0 L42.8,-7.6" fill="none" stroke="#000" stroke-width="1.00" stroke-linejoin="round"/><text transform="translate(49.7 0) scale(0.715 1)" text-anchor="middle">2</text><text transform="translate(55.6 0) scale(0.715 1)" text-anchor="middle">5</text><text transform="translate(67.3 0) scale(0.862 1)" text-anchor="middle">I</text><text transform="translate(73.1 0) scale(0.821 1)" text-anchor="middle">n</text><text transform="translate(78.9 0) scale(0.883 1)" text-anchor="middle">c</text><text transform="translate(84.8 0) scale(0.821 1)" text-anchor="middle">h</text></g>
<line x1="1014.1" y1="906.2" x2="1014.1" y2="983.8" stroke-width="1.3"/>
<line x1="1164.5" y1="906.2" x2="1164.5" y2="983.8" stroke-width="1.3"/>
<line x1="990" y1="964.8" x2="1014.1" y2="964.8" stroke-width="1.3"/>
<line x1="1164.5" y1="964.8" x2="1200.3" y2="964.8" stroke-width="1.3"/>
<polygon class="f" points="1013.8,964.8 1002.3,967.4 1002.3,962.2"/>
<polygon class="f" points="1164.8,964.8 1177.8,962.2 1177.8,967.4"/>
<g transform="translate(1019.5 972.6)" class="dt" font-size="23.43"><text transform="translate(5.1 0) scale(0.729 1)" text-anchor="middle">6</text><text transform="translate(15.4 0) scale(0.729 1)" text-anchor="middle">0</text><text x="20.4" font-size="22.26" font-weight="bold" textLength="21.0" lengthAdjust="spacingAndGlyphs">mm</text><line x1="41.8" y1="0.8" x2="51.0" y2="-16.4" stroke="#000" stroke-width="1.39"/><text transform="translate(56.6 0) scale(0.729 1)" text-anchor="middle">2</text><text transform="translate(64.8 0) scale(1.074 1)" text-anchor="middle">.</text><text transform="translate(77.2 0) scale(0.729 1)" text-anchor="middle">3</text><text transform="translate(87.5 0) scale(0.729 1)" text-anchor="middle">6</text><text transform="translate(108.1 0) scale(0.879 1)" text-anchor="middle">I</text><text transform="translate(118.3 0) scale(0.837 1)" text-anchor="middle">n</text><text transform="translate(128.6 0) scale(0.900 1)" text-anchor="middle">c</text><text transform="translate(138.9 0) scale(0.837 1)" text-anchor="middle">h</text></g>
</g>
</svg>
</body></html>
